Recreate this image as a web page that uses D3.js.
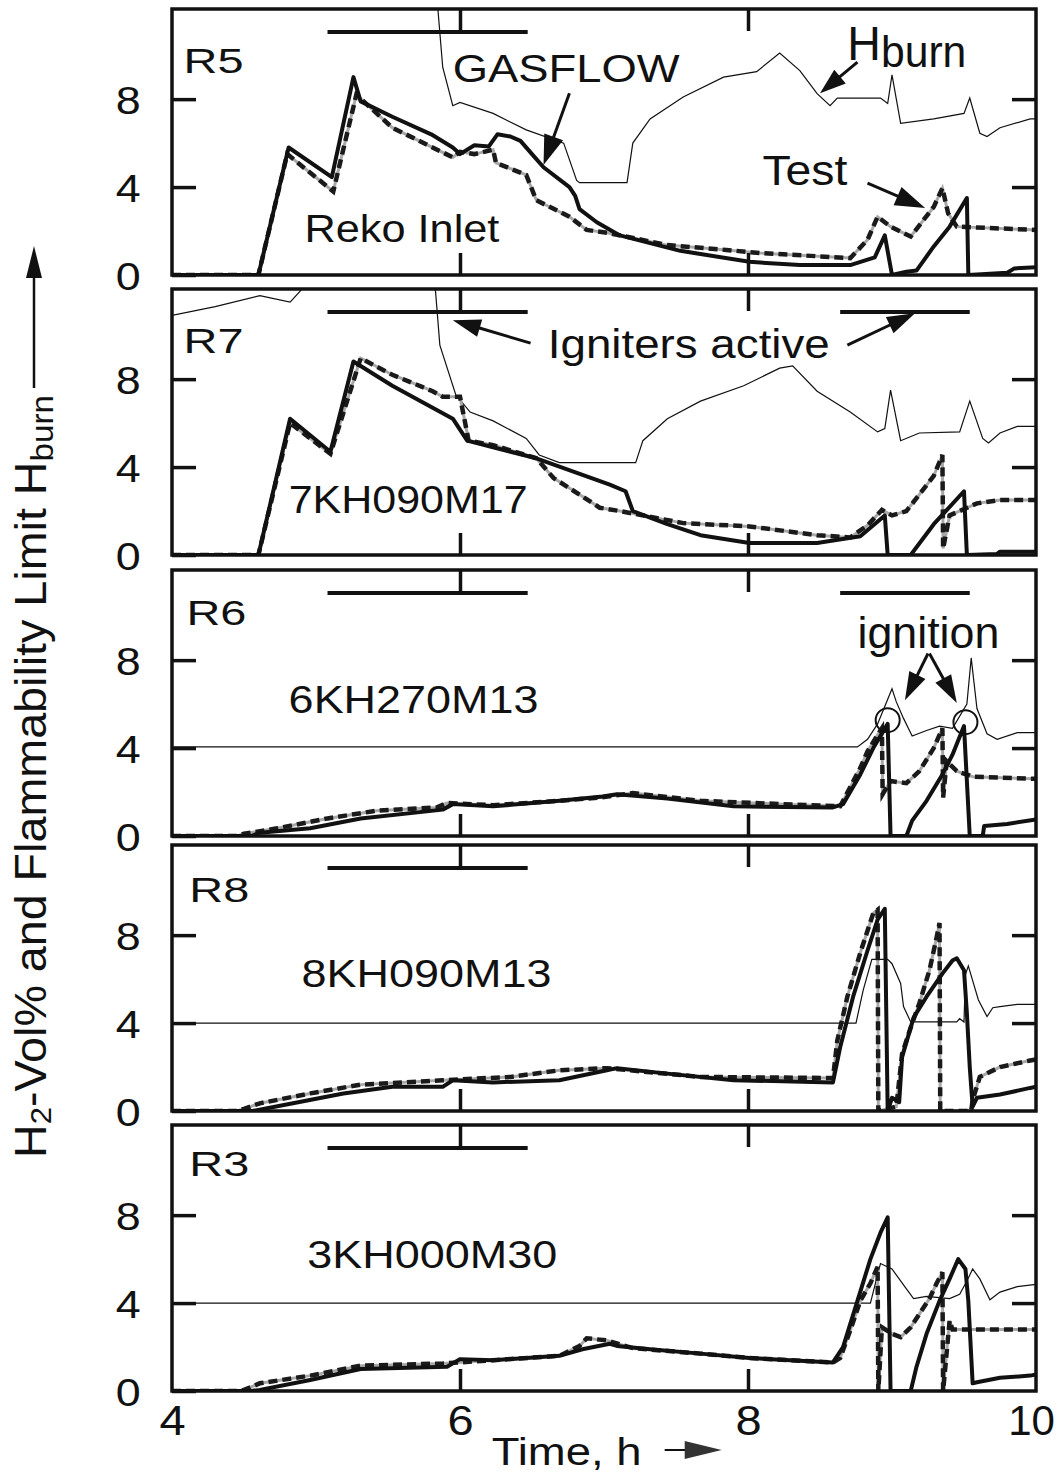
<!DOCTYPE html>
<html>
<head>
<meta charset="utf-8">
<script src="https://cdnjs.cloudflare.com/ajax/libs/d3/7.8.5/d3.min.js"></script>
<style>
  html, body { margin: 0; padding: 0; background: #fff; }
  svg { display: block; }
  text { font-family: "Liberation Sans", Arial, Helvetica, sans-serif; fill: #111; }
</style>
</head>
<body>
<svg width="1060" height="1475"></svg>
<script>
// panels, top to bottom
var panelNames = ["R5", "R7", "R6", "R8", "R3"];
var panelCodes = ["Reko Inlet", "7KH090M17", "6KH270M13", "8KH090M13", "3KH000M30"];
var yTicks = [0, 4, 8];
var xTicks = [4, 6, 8, 10];
// igniters active, time in h
var igniterOn = [[5.08, 6.47], [8.64, 9.54]];
var panelIgniters = [[0], [0, 1], [0, 1], [0], [0]];

// [time h, H2 vol%]  -- GASFLOW (solid), Test (dashed), Hburn (thin)
var r5Gas = [[4,0],[4.6,0],[4.81,5.8],[5.11,4.45],[5.26,9.0],[5.31,7.9],[5.53,7.2],[5.8,6.4],[5.95,5.8],[6.0,5.5],[6.1,5.9],[6.2,5.85],[6.26,6.4],[6.35,6.3],[6.42,6.1],[6.5,5.5],[6.58,4.9],[6.76,4.0],[6.8,3.6],[6.83,3.0],[6.95,2.4],[7.11,1.8],[7.53,1.1],[8.01,0.6],[8.36,0.45],[8.71,0.45],[8.88,0.8],[8.95,1.8],[9.0,0],[9.1,0.15],[9.17,0.2],[9.29,1.3],[9.4,2.2],[9.52,3.5],[9.53,0],[9.8,0.1],[9.85,0.3],[10,0.35]];
var r5Test = [[4,0],[4.6,0],[4.8,5.5],[5.12,3.8],[5.28,8.2],[5.53,6.7],[5.95,5.35],[6.0,5.6],[6.1,5.5],[6.23,5.7],[6.25,5.1],[6.46,4.55],[6.53,3.4],[6.76,2.65],[6.88,2.05],[7.04,1.9],[7.44,1.36],[7.85,1.14],[8.08,1.0],[8.71,0.77],[8.83,1.6],[8.9,2.65],[8.99,2.2],[9.13,1.75],[9.29,3.1],[9.35,3.95],[9.39,2.8],[9.45,2.2],[10,2.05]];
var r5Hburn = [[5.84,12.6],[5.88,9.45],[5.95,7.7],[6.0,7.85],[6.23,7.35],[6.46,6.6],[6.72,6.0],[6.81,4.3],[6.83,4.2],[7.16,4.2],[7.2,6.0],[7.32,7.1],[7.55,8.1],[7.83,9.0],[8.06,9.25],[8.22,10.1],[8.36,9.3],[8.48,8.25],[8.57,7.7],[8.62,8.05],[8.92,8.05],[8.97,7.8],[9.0,9.1],[9.06,6.9],[9.29,7.1],[9.5,7.35],[9.54,8.05],[9.61,6.45],[9.66,6.3],[9.75,6.7],[9.96,7.1],[10,7.1]];

var r7Gas = [[4,0],[4.6,0],[4.82,6.2],[5.1,4.7],[5.26,8.8],[5.53,7.7],[5.95,6.2],[6.05,5.2],[6.23,4.9],[6.53,4.4],[7.04,3.2],[7.15,2.9],[7.2,2.0],[7.44,1.4],[7.67,0.9],[8.01,0.55],[8.48,0.55],[8.78,0.85],[8.95,1.8],[8.97,0],[9.13,0],[9.29,1.4],[9.5,2.9],[9.52,0],[9.73,0.05],[9.75,0.15],[10,0.15]];
var r7Test = [[4,0],[4.6,0],[4.82,6.0],[5.1,4.6],[5.31,8.95],[5.53,8.2],[5.81,7.45],[5.88,7.2],[6.0,7.2],[6.06,5.2],[6.23,5.0],[6.53,4.4],[6.65,3.5],[6.83,2.75],[6.97,2.15],[7.11,2.0],[7.55,1.45],[8.01,1.3],[8.48,0.9],[8.71,0.8],[8.83,1.35],[8.93,2.05],[9.0,1.8],[9.1,2.0],[9.19,2.75],[9.29,3.6],[9.35,4.55],[9.355,0.3],[9.4,1.8],[9.59,2.35],[9.75,2.5],[10,2.5]];
var r7Hburn = [[4,10.9],[4.3,11.3],[4.61,11.8],[4.82,11.5],[4.89,12.0],[4.95,12.6],[5.8,12.6],[5.83,12.0],[5.86,9.55],[5.97,7.3],[6.07,6.5],[6.23,6.1],[6.46,5.3],[6.55,4.55],[6.69,4.2],[7.22,4.2],[7.27,5.2],[7.44,6.2],[7.67,7.0],[7.97,7.7],[8.22,8.5],[8.31,8.6],[8.48,7.45],[8.71,6.5],[8.9,5.6],[8.95,5.75],[8.99,7.5],[9.06,5.2],[9.19,5.55],[9.47,5.6],[9.54,7.0],[9.63,5.3],[9.67,5.1],[9.75,5.55],[9.87,5.85],[10,5.85]];

var r6Gas = [[4,0],[4.55,0],[4.61,0.15],[4.96,0.35],[5.31,0.8],[5.88,1.2],[5.95,1.45],[6.23,1.35],[6.69,1.6],[6.99,1.8],[7.09,1.9],[7.44,1.7],[7.9,1.35],[8.59,1.3],[8.66,1.45],[8.78,2.8],[8.87,4.0],[8.97,5.1],[8.99,0],[9.1,0],[9.14,0.7],[9.24,1.6],[9.35,2.8],[9.42,3.7],[9.5,5.0],[9.54,0],[9.63,0],[9.64,0.45],[9.8,0.55],[10,0.75]];
var r6Test = [[4,0],[4.45,0],[4.5,0.1],[4.73,0.35],[5.08,0.8],[5.42,1.15],[5.84,1.3],[5.91,1.5],[6.23,1.4],[6.69,1.6],[6.97,1.75],[7.2,1.95],[7.67,1.6],[8.24,1.45],[8.64,1.35],[8.78,3.1],[8.83,3.85],[8.9,4.6],[8.93,4.9],[8.935,1.9],[8.99,2.5],[9.1,2.4],[9.19,2.95],[9.29,4.0],[9.35,4.9],[9.355,1.75],[9.38,3.4],[9.45,2.95],[9.56,2.7],[10,2.6]];
var r6Hburn = [[4,4.05],[8.76,4.05],[8.83,4.4],[8.9,5.1],[9.0,6.7],[9.03,6.1],[9.08,5.35],[9.14,4.55],[9.24,4.8],[9.33,5.0],[9.42,4.9],[9.52,6.0],[9.55,8.1],[9.59,5.8],[9.66,4.65],[9.73,4.4],[9.87,4.7],[10,4.7]];

var r8Gas = [[4,0],[4.56,0],[4.84,0.35],[5.19,0.8],[5.53,1.1],[5.88,1.1],[5.95,1.4],[6.23,1.3],[6.69,1.4],[7.02,1.85],[7.09,1.95],[7.44,1.7],[7.9,1.4],[8.59,1.3],[8.64,2.9],[8.73,5.2],[8.83,7.3],[8.9,8.7],[8.95,9.2],[8.97,0],[9.0,0.6],[9.05,0.4],[9.07,2.45],[9.15,4.25],[9.24,5.2],[9.35,6.25],[9.42,6.85],[9.45,6.95],[9.5,6.4],[9.52,4.45],[9.54,2.0],[9.56,0.2],[9.59,0.6],[9.75,0.75],[9.96,1.05],[10,1.1]];
var r8Test = [[4,0],[4.45,0],[4.5,0.1],[4.61,0.35],[4.96,0.8],[5.31,1.2],[5.88,1.4],[6.35,1.55],[6.69,1.85],[7.02,1.95],[7.67,1.55],[8.59,1.5],[8.62,3.2],[8.69,5.2],[8.78,7.2],[8.87,9.0],[8.9,9.15],[8.905,0],[9.03,0.2],[9.07,2.6],[9.13,3.8],[9.19,4.9],[9.26,6.4],[9.31,7.9],[9.33,8.55],[9.335,0],[9.55,0],[9.56,0.5],[9.61,1.55],[9.75,2.0],[9.96,2.3],[10,2.35]];
var r8Hburn = [[4,4.0],[8.75,4.0],[8.8,5.5],[8.86,6.9],[8.97,6.9],[9.0,6.7],[9.06,5.8],[9.08,4.75],[9.13,4.05],[9.45,4.05],[9.47,4.2],[9.5,4.05],[9.51,6.2],[9.53,6.6],[9.6,5.05],[9.66,4.3],[9.7,4.7],[9.75,4.75],[9.87,4.85],[10,4.85]];

var r3Gas = [[4,0],[4.55,0],[4.61,0.05],[4.96,0.5],[5.31,1.0],[5.91,1.1],[6.0,1.45],[6.23,1.4],[6.69,1.6],[6.85,1.9],[7.04,2.15],[7.09,2.05],[7.32,1.9],[7.67,1.7],[8.01,1.5],[8.59,1.3],[8.66,2.0],[8.76,4.1],[8.85,6.0],[8.92,7.2],[8.97,7.9],[8.99,0],[9.13,0],[9.17,1.1],[9.24,2.6],[9.33,4.1],[9.4,5.1],[9.46,6.0],[9.51,5.55],[9.53,4.1],[9.56,0.35],[9.59,0.4],[9.75,0.6],[9.96,0.7],[10,0.75]];
var r3Test = [[4,0],[4.45,0],[4.5,0.05],[4.61,0.35],[4.96,0.7],[5.31,1.15],[5.88,1.25],[6.23,1.4],[6.69,1.6],[6.83,2.05],[6.88,2.4],[7.02,2.3],[7.2,1.95],[7.67,1.7],[8.01,1.5],[8.59,1.3],[8.64,1.5],[8.71,2.75],[8.78,4.1],[8.85,4.9],[8.9,5.65],[8.905,0],[8.93,2.9],[9.0,2.6],[9.06,2.45],[9.13,2.9],[9.19,3.5],[9.26,4.2],[9.31,4.9],[9.35,5.4],[9.355,0],[9.4,3.2],[9.42,2.8],[10,2.8]];
var r3Hburn = [[4,4.0],[8.85,4.0],[8.92,5.8],[9.0,5.55],[9.1,4.65],[9.15,4.2],[9.24,4.3],[9.4,4.2],[9.47,4.4],[9.52,5.0],[9.56,5.55],[9.61,5.1],[9.68,4.15],[9.75,4.5],[9.87,4.75],[10,4.85]];

var gasflow = [r5Gas, r7Gas, r6Gas, r8Gas, r3Gas];
var test = [r5Test, r7Test, r6Test, r8Test, r3Test];
var hburn = [r5Hburn, r7Hburn, r6Hburn, r8Hburn, r3Hburn];

// ignition points (R6), time h / vol%
var ignitions = [[8.97, 5.27], [9.51, 5.18]];

// ---- layout ----
var svg = d3.select("svg"),
    left = 172, right = 1036,
    panelTop = [9, 289, 570, 845, 1125],
    panelH = 266,
    ink = "#111";

var x = d3.scaleLinear().domain([4, 10]).range([left, right]);

// label spots in data units
var nameAt = [[4.08, 9.2], [4.08, 9.2], [4.1, 9.6], [4.12, 9.5], [4.12, 9.8]];
var codeAt = [[4.92, 1.5], [4.81, 1.9], [4.81, 5.6], [4.9, 5.64], [4.94, 5.6]];
var codeW = [195, 239, 250, 250, 250];

function fit(t, w) {
  var len = t.node().getComputedTextLength();
  var x0 = +t.attr("x") || 0, y0 = +t.attr("y") || 0;
  t.attr("transform", "translate(" + x0 + "," + y0 + ") scale(" + (w / len) + ",1) translate(" + (-x0) + "," + (-y0) + ")");
}

function arrow(g, x1, y1, x2, y2, L, W) {
  L = L || 28; W = W || 9;
  var a = Math.atan2(y2 - y1, x2 - x1),
      bx = x2 - L * Math.cos(a), by = y2 - L * Math.sin(a),
      sx = W * Math.sin(a), sy = W * Math.cos(a);
  g.append("line")
      .attr("x1", x1).attr("y1", y1).attr("x2", bx + 2 * Math.cos(a)).attr("y2", by + 2 * Math.sin(a))
      .attr("stroke", ink).attr("stroke-width", 3);
  g.append("path")
      .attr("d", "M" + x2 + "," + y2 + "L" + (bx + sx) + "," + (by - sy) + "L" + (bx - sx) + "," + (by + sy) + "Z")
      .attr("fill", ink);
}

panelNames.forEach(function(name, i) {
  var top = panelTop[i], bottom = top + panelH;
  var y = d3.scaleLinear().domain([0, 12.1]).range([bottom, top]);
  var g = svg.append("g").attr("class", "panel");

  var line = d3.line()
      .x(function(d) { return x(d[0]); })
      .y(function(d) { return y(d[1]); });

  g.append("clipPath").attr("id", "clip" + i)
    .append("rect").attr("x", left).attr("y", top).attr("width", right - left).attr("height", panelH);

  var plot = g.append("g").attr("clip-path", "url(#clip" + i + ")");

  plot.append("path").datum(hburn[i])
      .attr("d", line).attr("fill", "none")
      .attr("stroke", ink).attr("stroke-width", 1.2);

  plot.append("path").datum(test[i])
      .attr("d", line).attr("fill", "none")
      .attr("stroke", "#a8a8a8").attr("stroke-width", 3);
  plot.append("path").datum(test[i])
      .attr("d", line).attr("fill", "none")
      .attr("stroke", "#1a1a1a").attr("stroke-width", 4.5)
      .attr("stroke-dasharray", "9,5");

  plot.append("path").datum(gasflow[i])
      .attr("d", line).attr("fill", "none")
      .attr("stroke", ink).attr("stroke-width", 4)
      .attr("stroke-linejoin", "round");

  // igniter bars
  g.selectAll(".ign").data(panelIgniters[i].map(function(k) { return igniterOn[k]; }))
    .enter().append("line")
      .attr("x1", function(d) { return x(d[0]); })
      .attr("x2", function(d) { return x(d[1]); })
      .attr("y1", y(11.05)).attr("y2", y(11.05))
      .attr("stroke", ink).attr("stroke-width", 4);

  // axes
  var axL = g.append("g").attr("transform", "translate(" + left + ",0)")
      .call(d3.axisLeft(y).tickValues(yTicks).tickSize(-24).tickPadding(44));
  var axR = g.append("g").attr("transform", "translate(" + right + ",0)")
      .call(d3.axisRight(y).tickValues([4, 8]).tickSize(-24).tickFormat(""));
  var axT = g.append("g").attr("transform", "translate(0," + top + ")")
      .call(d3.axisTop(x).tickValues([6, 8]).tickSize(-22).tickFormat(""));
  var axB = g.append("g").attr("transform", "translate(0," + bottom + ")")
      .call(d3.axisBottom(x).tickValues([6, 8]).tickSize(-22).tickFormat(""));
  [axL, axR, axT, axB].forEach(function(a) {
    a.select(".domain").remove();
    a.selectAll(".tick line").attr("stroke", ink).attr("stroke-width", 3.5);
  });
  axL.selectAll(".tick text")
      .attr("font-size", 39).attr("fill", ink)
      .attr("font-family", "Liberation Sans, Arial, sans-serif")
      .attr("dy", "0.36em")
      .attr("transform", "translate(-128,0) scale(1.15,1) translate(128,0)");

  g.append("rect")
      .attr("x", left).attr("y", top).attr("width", right - left).attr("height", panelH)
      .attr("fill", "none").attr("stroke", ink).attr("stroke-width", 3.5);

  // labels
  var nm = g.append("text").attr("x", x(nameAt[i][0])).attr("y", y(nameAt[i][1]))
      .attr("font-size", 35).text(name);
  fit(nm, 60);
  var cd = g.append("text").attr("x", x(codeAt[i][0])).attr("y", y(codeAt[i][1]))
      .attr("font-size", 39).text(panelCodes[i]);
  fit(cd, codeW[i]);

  if (i === 0) {
    var gf = g.append("text").attr("x", x(5.95)).attr("y", y(8.77)).attr("font-size", 39).text("GASFLOW");
    fit(gf, 227);
    arrow(g, x(6.76), y(8.27), x(6.58), y(5.0), 30, 10);

    var hb = g.append("text").attr("x", x(8.69)).attr("y", y(9.77)).attr("font-size", 48);
    hb.append("tspan").text("H");
    hb.append("tspan").attr("font-size", 44).attr("dy", 7).text("burn");
    fit(hb, 119);
    arrow(g, x(8.76), y(9.68), x(8.5), y(8.27), 26, 9);

    var ts = g.append("text").attr("x", x(8.1)).attr("y", y(4.09)).attr("font-size", 42).text("Test");
    fit(ts, 85);
    arrow(g, x(8.83), y(4.18), x(9.23), y(3.05), 30, 10);
  }
  if (i === 1) {
    var ia = g.append("text").attr("x", x(6.61)).attr("y", y(8.95)).attr("font-size", 40).text("Igniters active");
    fit(ia, 282);
    arrow(g, x(6.49), y(9.64), x(5.95), y(10.68), 28, 9);
    arrow(g, x(8.69), y(9.55), x(9.16), y(11.0), 28, 9);
  }
  if (i === 2) {
    var ig = g.append("text").attr("x", x(8.76)).attr("y", y(8.55)).attr("font-size", 44).text("ignition");
    fit(ig, 142);
    arrow(g, x(9.25), y(8.3), x(9.09), y(6.18), 28, 9);
    arrow(g, x(9.26), y(8.3), x(9.45), y(6.05), 28, 9);
    g.selectAll(".ignc").data(ignitions).enter().append("circle")
        .attr("cx", function(d) { return x(d[0]); })
        .attr("cy", function(d) { return y(d[1]); })
        .attr("r", 12).attr("fill", "none").attr("stroke", ink).attr("stroke-width", 2);
  }
  if (i === 4) {
    var axX = g.append("g").attr("transform", "translate(0," + bottom + ")")
        .call(d3.axisBottom(x).tickValues(xTicks).tickSize(0).tickPadding(14).tickFormat(d3.format("d")));
    axX.select(".domain").remove();
    axX.selectAll(".tick text").attr("font-size", 42).attr("fill", ink)
        .attr("font-family", "Liberation Sans, Arial, sans-serif")
        .attr("transform", function(d) { return d === 10 ? "translate(-5,0)" : "scale(1.12,1)"; });

    var tt = g.append("text").attr("x", x(6.22)).attr("y", bottom + 74).attr("font-size", 39).text("Time, h");
    fit(tt, 150);
    var ay = bottom + 59, ax0 = x(6.22) + 173;
    g.append("line").attr("x1", ax0).attr("x2", ax0 + 28).attr("y1", ay).attr("y2", ay)
        .attr("stroke", ink).attr("stroke-width", 2);
    g.append("path")
        .attr("d", "M" + (ax0 + 57) + "," + ay + "L" + (ax0 + 20) + "," + (ay - 9) + "L" + (ax0 + 20) + "," + (ay + 9) + "Z")
        .attr("fill", "#333");
  }
});

// y title, rotated
var yt = svg.append("text").attr("x", 0).attr("y", 0).attr("font-size", 45);
yt.append("tspan").text("H");
yt.append("tspan").attr("font-size", 30).attr("dy", 5).text("2");
yt.append("tspan").attr("dy", -5).text("-Vol% and Flammability Limit H");
yt.append("tspan").attr("font-size", 32).attr("dy", 7).text("burn");
var ylen = yt.node().getComputedTextLength();
yt.attr("transform", "translate(46,1158) rotate(-90) scale(" + (763 / ylen) + ",1)");

svg.append("line").attr("x1", 34).attr("x2", 34).attr("y1", 388).attr("y2", 272)
    .attr("stroke", ink).attr("stroke-width", 2.5);
svg.append("path").attr("d", "M34,246L26,278L42,278Z").attr("fill", ink);
</script>
</body>
</html>
